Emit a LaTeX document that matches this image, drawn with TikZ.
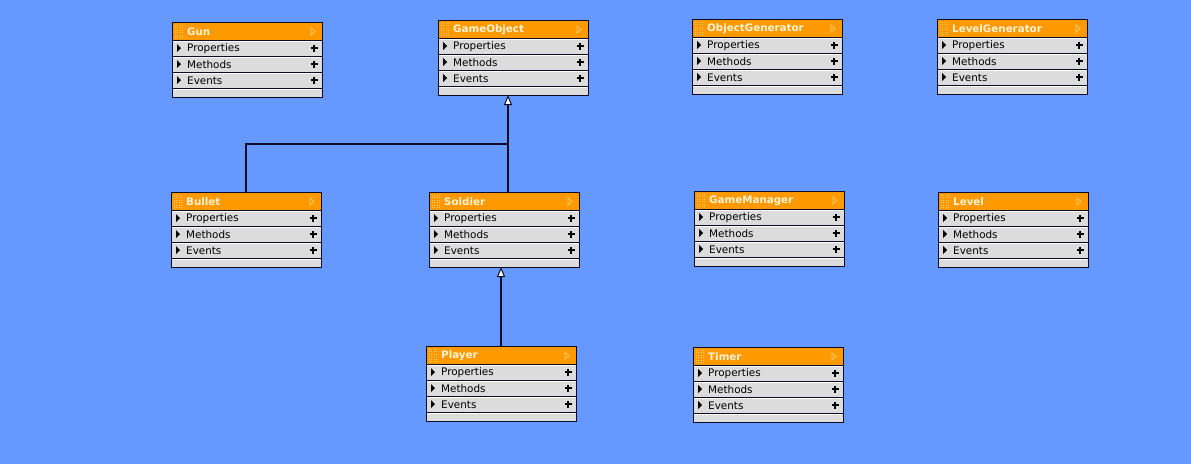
\documentclass[tikz,border=0pt]{standalone}
\usepackage{fontspec}
\setmainfont{DejaVu Sans}
\usepackage{xcolor}
\usepackage{tikz}
\usetikzlibrary{arrows.meta, positioning}
\definecolor{canvasblue}{RGB}{102, 153, 255}
\definecolor{titleorange}{RGB}{255, 153, 0}
\definecolor{titletext}{RGB}{255, 243, 214}
\definecolor{griporange}{RGB}{255, 204, 110}
\definecolor{rowgray}{RGB}{220, 220, 220}
\definecolor{classline}{RGB}{12, 12, 40}

% one class box: name, north west corner, title
\newcommand{\umlclass}[3]{%
    \node[classbox] (#1) at (#2) {};
    \begin{scope}[shift={(#1.north west)}]
        \fill[titleorange] (0.5,0.5) rectangle (149.5,18);
        \foreach \gx in {3,5.5,8,10.5}
            \foreach \gy in {3,5.5,...,15.5}
                \fill[griporange] (\gx-0.4,\gy-0.4) rectangle ++(0.8,0.8);
        \node[titlefont] (#1-title) at (15,9.5) {#3};
        \draw[griporange, line width=0.8pt] (139,6) -- (143,9.5) -- (139,13) -- cycle;
        \foreach \r/\lbl in {0/Properties, 1/Methods, 2/Events} {
            \draw[classline, line width=1pt] (0,18+16*\r) -- (150,18+16*\r);
            \draw[white, line width=1pt] (1,19.5+16*\r) -- (149,19.5+16*\r);
            \fill[black] (5,22+16*\r) -- (9,26+16*\r) -- (5,30+16*\r) -- cycle;
            \node[rowfont] (#1-\r) at (15,26.5+16*\r) {\lbl};
            \draw[black, line width=1.6pt] (138.5,26+16*\r) -- (145.5,26+16*\r)
                (142,22.5+16*\r) -- (142,29.5+16*\r);
        }
        \draw[classline, line width=1pt] (0,66) -- (150,66);
        \draw[white, line width=1pt] (1,67.5) -- (149,67.5);
    \end{scope}
    \draw[classline, line width=1pt] (#1.north west) rectangle (#1.south east);
}

\begin{document}
\begin{tikzpicture}[
    x=1pt, y=-1pt,
    classbox/.style={fill=rowgray, anchor=north west, minimum width=150pt, minimum height=75pt, inner sep=0pt, outer sep=0pt},
    titlefont/.style={anchor=west, inner sep=0pt, text=titletext, font=\fontsize{10.3}{12}\selectfont\bfseries},
    rowfont/.style={anchor=west, inner sep=0pt, text=black, font=\fontsize{10.4}{12}\selectfont},
    assoc/.style={classline, line width=2pt},
    inherit/.style={classline, line width=2pt, -{Triangle[fill=white, length=10pt, width=8pt, line width=1pt]}}
]
    \fill[canvasblue] (0,0) rectangle (1191,464);
    \useasboundingbox (0,0) rectangle (1191,464);

    \umlclass{gun}{172,22}{Gun}
    \umlclass{gameobj}{438,20}{GameObject}
    \umlclass{objgen}{692,19}{ObjectGenerator}
    \umlclass{levelgen}{937,19}{LevelGenerator}
    \umlclass{bullet}{171,192}{Bullet}
    \umlclass{soldier}{429,192}{Soldier}
    \umlclass{gamemgr}{694,191}{GameManager}
    \umlclass{level}{938,192}{Level}
    \umlclass{player}{426,346}{Player}
    \umlclass{timer}{693,347}{Timer}

    \coordinate (joint) at (508,144);

    \draw[assoc] (bullet.north) |- (joint);
    \draw[inherit] ([xshift=4pt]soldier.north) -- ([xshift=4pt]soldier.north |- gameobj.south);
    \draw[inherit] (player.north) -- (player.north |- soldier.south);
\end{tikzpicture}
\end{document}
